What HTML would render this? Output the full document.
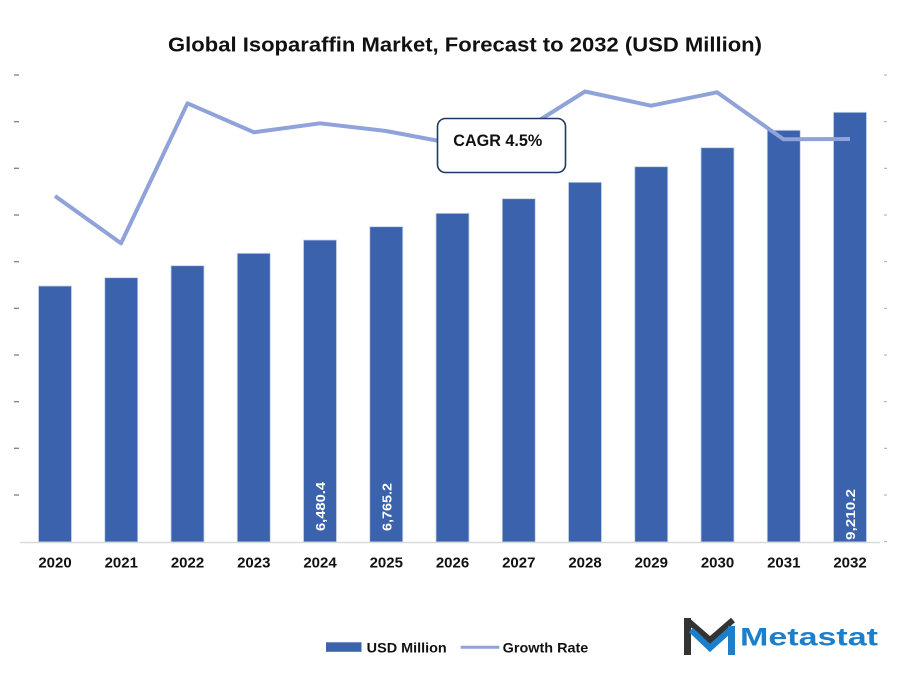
<!DOCTYPE html>
<html>
<head>
<meta charset="utf-8">
<style>
  html, body { margin: 0; padding: 0; background: #ffffff; }
  svg { display: block; }
  text { font-family: "Liberation Sans", Arial, sans-serif; }
</style>
</head>
<body>
<svg width="901" height="682" viewBox="0 0 901 682" xmlns="http://www.w3.org/2000/svg">
  <rect x="0" y="0" width="901" height="682" fill="#ffffff"/>

  <!-- Title -->
  <text x="168" y="51.7" font-size="20.5" font-weight="bold" fill="#111111" textLength="594" lengthAdjust="spacingAndGlyphs">Global Isoparaffin Market, Forecast to 2032 (USD Million)</text>

  <!-- Left ticks -->
  <g stroke="#8a8070" stroke-width="1.3">
    <line x1="14" y1="75" x2="19" y2="75"/>
    <line x1="14" y1="121.7" x2="19" y2="121.7"/>
    <line x1="14" y1="168.3" x2="19" y2="168.3"/>
    <line x1="14" y1="215" x2="19" y2="215"/>
    <line x1="14" y1="261.7" x2="19" y2="261.7"/>
    <line x1="14" y1="308.3" x2="19" y2="308.3"/>
    <line x1="14" y1="355" x2="19" y2="355"/>
    <line x1="14" y1="401.7" x2="19" y2="401.7"/>
    <line x1="14" y1="448.3" x2="19" y2="448.3"/>
    <line x1="14" y1="495" x2="19" y2="495"/>
  </g>
  <!-- Right ticks -->
  <g stroke="#a8a8a8" stroke-width="1">
    <line x1="884" y1="75" x2="887" y2="75"/>
    <line x1="884" y1="121.7" x2="887" y2="121.7"/>
    <line x1="884" y1="168.3" x2="887" y2="168.3"/>
    <line x1="884" y1="215" x2="887" y2="215"/>
    <line x1="884" y1="261.7" x2="887" y2="261.7"/>
    <line x1="884" y1="308.3" x2="887" y2="308.3"/>
    <line x1="884" y1="355" x2="887" y2="355"/>
    <line x1="884" y1="401.7" x2="887" y2="401.7"/>
    <line x1="884" y1="448.3" x2="887" y2="448.3"/>
    <line x1="884" y1="495" x2="887" y2="495"/>
    <line x1="884" y1="541.7" x2="887" y2="541.7"/>
  </g>

  <!-- Bars -->
  <g fill="#3b63ad" stroke="#c9d3ea" stroke-width="0.8">
    <rect x="38.5" y="286" width="33" height="256"/>
    <rect x="104.75" y="277.7" width="33" height="264.3"/>
    <rect x="171" y="265.7" width="33" height="276.3"/>
    <rect x="237.25" y="253.3" width="33" height="288.7"/>
    <rect x="303.5" y="240" width="33" height="302"/>
    <rect x="369.75" y="226.7" width="33" height="315.3"/>
    <rect x="436" y="213.3" width="33" height="328.7"/>
    <rect x="502.25" y="198.7" width="33" height="343.3"/>
    <rect x="568.5" y="182.3" width="33" height="359.7"/>
    <rect x="634.75" y="166.7" width="33" height="375.3"/>
    <rect x="701" y="147.7" width="33" height="394.3"/>
    <rect x="767.25" y="130.3" width="33" height="411.7"/>
    <rect x="833.5" y="112.3" width="33" height="429.7"/>
  </g>

  <!-- Axis baseline -->
  <line x1="20" y1="542.5" x2="880" y2="542.5" stroke="#d9d9d9" stroke-width="1.5"/>

  <!-- Bar value labels -->
  <text transform="translate(325,531) rotate(-90)" font-size="13" font-weight="bold" fill="#ffffff" textLength="49" lengthAdjust="spacingAndGlyphs">6,480.4</text>
  <text transform="translate(391.5,531) rotate(-90)" font-size="13" font-weight="bold" fill="#ffffff" textLength="48" lengthAdjust="spacingAndGlyphs">6,765.2</text>
  <text transform="translate(855,540) rotate(-90)" font-size="13" font-weight="bold" fill="#ffffff" textLength="51" lengthAdjust="spacingAndGlyphs">9,210.2</text>

  <!-- Growth line -->
  <polyline fill="none" stroke="#8fa2d9" stroke-width="4" stroke-linejoin="round" stroke-linecap="butt"
    points="55,196 121,243.3 187.5,103.3 254,132.3 320,123.3 386,131 452.5,143.5 519,133 585,91.5 651,105.7 717,92.3 783.5,139.3 850,139"/>

  <!-- CAGR box -->
  <rect x="437.5" y="118.5" width="128" height="54" rx="8" ry="8" fill="#ffffff" stroke="#1f3864" stroke-width="1.6"/>
  <text x="453.3" y="146" font-size="17" font-weight="bold" fill="#111111" textLength="89" lengthAdjust="spacingAndGlyphs">CAGR 4.5%</text>

  <!-- X labels -->
  <g font-size="15" font-weight="bold" fill="#111111" text-anchor="middle">
    <text x="55" y="567.7">2020</text>
    <text x="121.25" y="567.7">2021</text>
    <text x="187.5" y="567.7">2022</text>
    <text x="253.75" y="567.7">2023</text>
    <text x="320" y="567.7">2024</text>
    <text x="386.25" y="567.7">2025</text>
    <text x="452.5" y="567.7">2026</text>
    <text x="518.75" y="567.7">2027</text>
    <text x="585" y="567.7">2028</text>
    <text x="651.25" y="567.7">2029</text>
    <text x="717.5" y="567.7">2030</text>
    <text x="783.75" y="567.7">2031</text>
    <text x="850" y="567.7">2032</text>
  </g>

  <!-- Legend -->
  <rect x="326" y="642.3" width="35.5" height="9.5" fill="#3b63ad"/>
  <text x="366.7" y="652.3" font-size="14" font-weight="bold" fill="#111111" textLength="80" lengthAdjust="spacingAndGlyphs">USD Million</text>
  <line x1="460.7" y1="647.3" x2="499.3" y2="647.3" stroke="#8fa2d9" stroke-width="3"/>
  <text x="502.7" y="652.3" font-size="14" font-weight="bold" fill="#111111" textLength="85.6" lengthAdjust="spacingAndGlyphs">Growth Rate</text>

  <!-- Metastat logo -->
  <g>
    <rect x="684" y="618" width="7" height="37" fill="#333333"/>
    <polyline points="687,620 710,640 733,620" fill="none" stroke="#333333" stroke-width="6" stroke-linejoin="miter"/>
    <polyline points="691,630 710,648 730,630" fill="none" stroke="#1b7fcc" stroke-width="6" stroke-linejoin="miter"/>
    <rect x="728" y="626" width="7" height="29" fill="#1b7fcc"/>
  </g>
  <text x="740" y="645.7" font-size="25" font-weight="bold" fill="#1b7fcc" textLength="138" lengthAdjust="spacingAndGlyphs">Metastat</text>
</svg>
</body>
</html>
